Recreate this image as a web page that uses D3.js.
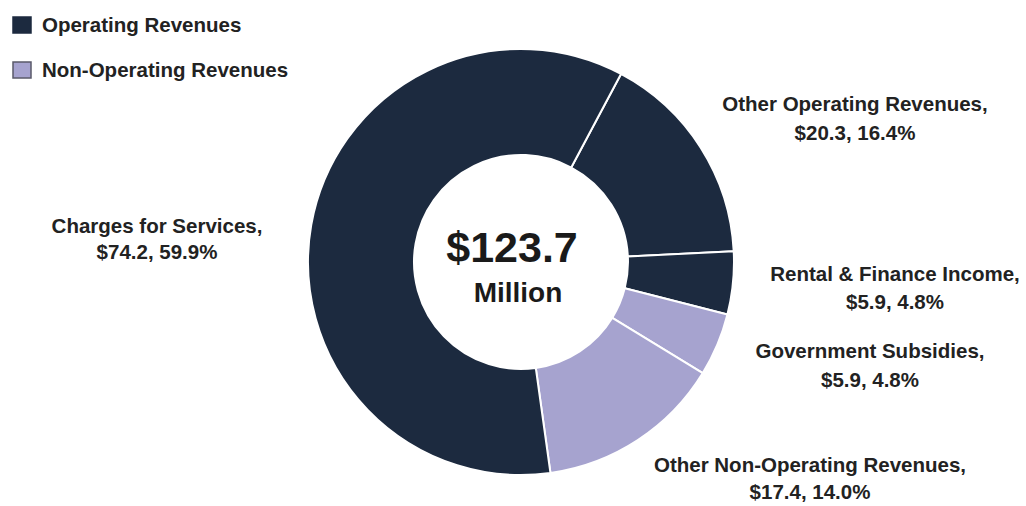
<!DOCTYPE html>
<html>
<head>
<meta charset="utf-8">
<script src="https://cdn.jsdelivr.net/npm/d3@7"></script>
<style>
  html, body { margin: 0; padding: 0; background: #ffffff; }
  svg { display: block; font-family: "Liberation Sans", Arial, sans-serif; }
</style>
</head>
<body>
<svg id="chart" width="1026" height="506"></svg>
<script>
// Revenue sources, in $ millions, listed clockwise from the top-right slice
const categories = ["Other Operating Revenues", "Rental & Finance Income", "Government Subsidies",
                    "Other Non-Operating Revenues", "Charges for Services"];
const values = [20.3, 5.9, 5.9, 17.4, 74.2];
const percents = [16.4, 4.8, 4.8, 14.0, 59.9];
const groups = ["Operating Revenues", "Operating Revenues", "Non-Operating Revenues",
                "Non-Operating Revenues", "Operating Revenues"];
const legendGroups = ["Operating Revenues", "Non-Operating Revenues"];
const totalLabel = ["$123.7", "Million"];

const svg = d3.select("#chart");

const color = d3.scaleOrdinal()
  .domain(legendGroups)
  .range(["#1c2a3f", "#a6a3cf"]);

// Donut geometry
const cx = 521, cy = 262;
const outerR = 213, innerR = 107;

const pie = d3.pie()
  .sort(null)
  .value(d => d.value)
  .startAngle(28 * Math.PI / 180)
  .endAngle(28 * Math.PI / 180 + 2 * Math.PI);

const rows = categories.map((c, i) => ({
  name: c, value: values[i], pct: percents[i], group: groups[i]
}));

const arc = d3.arc().innerRadius(innerR).outerRadius(outerR);

const g = svg.append("g").attr("transform", `translate(${cx},${cy})`);
g.selectAll("path.slice")
  .data(pie(rows))
  .join("path")
  .attr("class", "slice")
  .attr("d", arc)
  .attr("fill", d => color(d.data.group))
  .attr("stroke", "#ffffff")
  .attr("stroke-width", 2)
  .attr("stroke-linejoin", "round");

// Total in the hole
g.append("text")
  .attr("x", -9).attr("y", 0)
  .attr("text-anchor", "middle")
  .attr("font-size", 43).attr("font-weight", "bold")
  .attr("fill", "#1a1a1a")
  .text(totalLabel[0]);
g.append("text")
  .attr("x", -3).attr("y", 40)
  .attr("text-anchor", "middle")
  .attr("font-size", 28).attr("font-weight", "bold")
  .attr("fill", "#1a1a1a")
  .text(totalLabel[1]);

// Label anchors (centre x, first baseline, line gap) for each slice, same order as categories
const labelAnchors = [
  [855, 111, 29],
  [895, 281, 28],
  [870, 358, 29],
  [810, 472, 27],
  [157, 233, 26]
];

const fmt = d3.format(".1f");
const labels = svg.append("g").attr("font-size", 20.5).attr("font-weight", "bold").attr("fill", "#222");
rows.forEach((r, i) => {
  const [x, y, gap] = labelAnchors[i];
  const t = labels.append("text").attr("text-anchor", "middle");
  t.append("tspan").attr("x", x).attr("y", y).text(r.name + ",");
  t.append("tspan").attr("x", x).attr("y", y + gap).text(`$${fmt(r.value)}, ${fmt(r.pct)}%`);
});

// Legend
const legend = svg.append("g");
legendGroups.forEach((name, i) => {
  const y0 = 17 + i * 45;
  legend.append("rect")
    .attr("x", 13).attr("y", y0)
    .attr("width", 18).attr("height", 16)
    .attr("fill", color(name))
    .attr("stroke", i === 0 ? "#1c2a3f" : "#5a5a6a")
    .attr("stroke-width", 1.5);
  legend.append("text")
    .attr("x", 42).attr("y", y0 + 15)
    .attr("font-size", 20.5).attr("font-weight", "bold")
    .attr("fill", "#222")
    .text(name);
});
</script>
</body>
</html>
